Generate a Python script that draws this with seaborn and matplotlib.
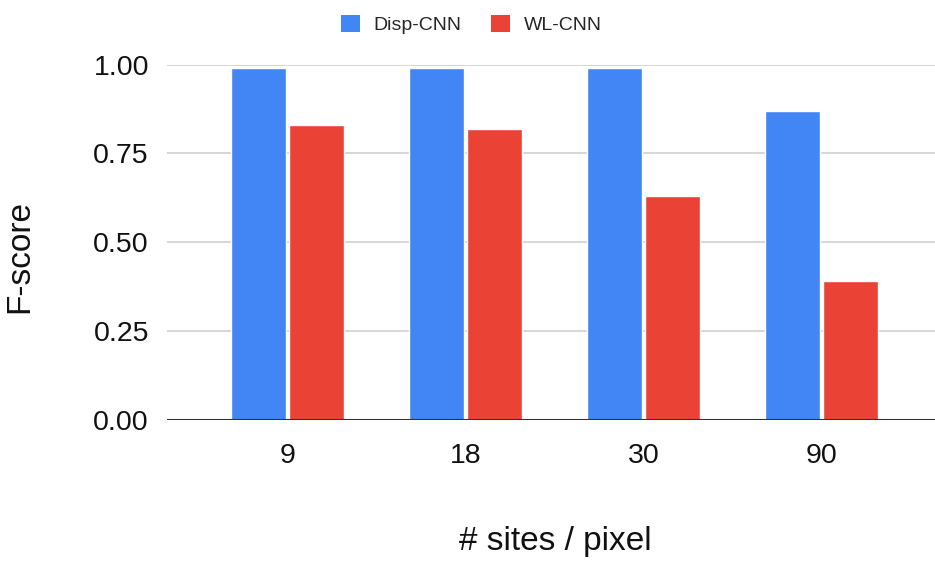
import matplotlib
matplotlib.use("Agg")
import matplotlib.pyplot as plt
from matplotlib.patches import Patch
import seaborn as sns
import pandas as pd

categories = ["9", "18", "30", "90"]
disp_cnn = [0.99, 0.99, 0.99, 0.87]
wl_cnn = [0.83, 0.82, 0.63, 0.39]
series_names = ["Disp-CNN", "WL-CNN"]
y_ticks = [0.00, 0.25, 0.50, 0.75, 1.00]
colors = ["#4285F4", "#EA4335"]

df = pd.DataFrame({
    "sites": categories * 2,
    "F-score": disp_cnn + wl_cnn,
    "model": [series_names[0]] * len(categories) + [series_names[1]] * len(categories),
})

sns.set_theme(style="white")
plt.rcParams["font.family"] = ["Liberation Sans", "DejaVu Sans"]

fig = plt.figure(figsize=(9.35, 5.61), dpi=100)
ax = fig.add_axes([0.1786, 0.2519, 1 - 0.1786, 0.8847 - 0.2519])

sns.barplot(data=df, x="sites", y="F-score", hue="model", order=categories,
            hue_order=series_names, palette=colors, width=0.652, gap=0.052,
            ax=ax, legend=False, saturation=1)

ax.set_ylim(0, 1.0)
ax.set_xlim(-0.68, 3.64)
ax.set_yticks(y_ticks)
ax.set_yticklabels([f"{v:.2f}" for v in y_ticks], fontsize=20.5, color="#111111")
ax.tick_params(axis="x", length=0, pad=17, labelsize=20.5, labelcolor="#111111")
ax.tick_params(axis="y", length=0, pad=13)
ax.yaxis.grid(True, color="#d0d0d0", linewidth=1.2)
ax.set_axisbelow(True)
for s in ax.spines.values():
    s.set_visible(False)
ax.axhline(0, color="#333333", linewidth=1.5, zorder=5)

ax.set_xlabel("# sites / pixel", fontsize=24, color="#111111", labelpad=0)
ax.xaxis.set_label_coords(0.505, -0.30)
ax.set_ylabel("F-score", fontsize=24, color="#111111")
ax.yaxis.set_label_coords(-0.172, 0.46)

handles = [Patch(facecolor=c, edgecolor="none") for c in colors]
fig.legend(handles, series_names, loc="upper center", bbox_to_anchor=(0.504, 1.005),
           ncol=2, frameon=False, fontsize=14, handlelength=1.0, handleheight=1.0,
           handletextpad=0.7, columnspacing=1.5)

fig.savefig("out.png", dpi=100, facecolor="white")
